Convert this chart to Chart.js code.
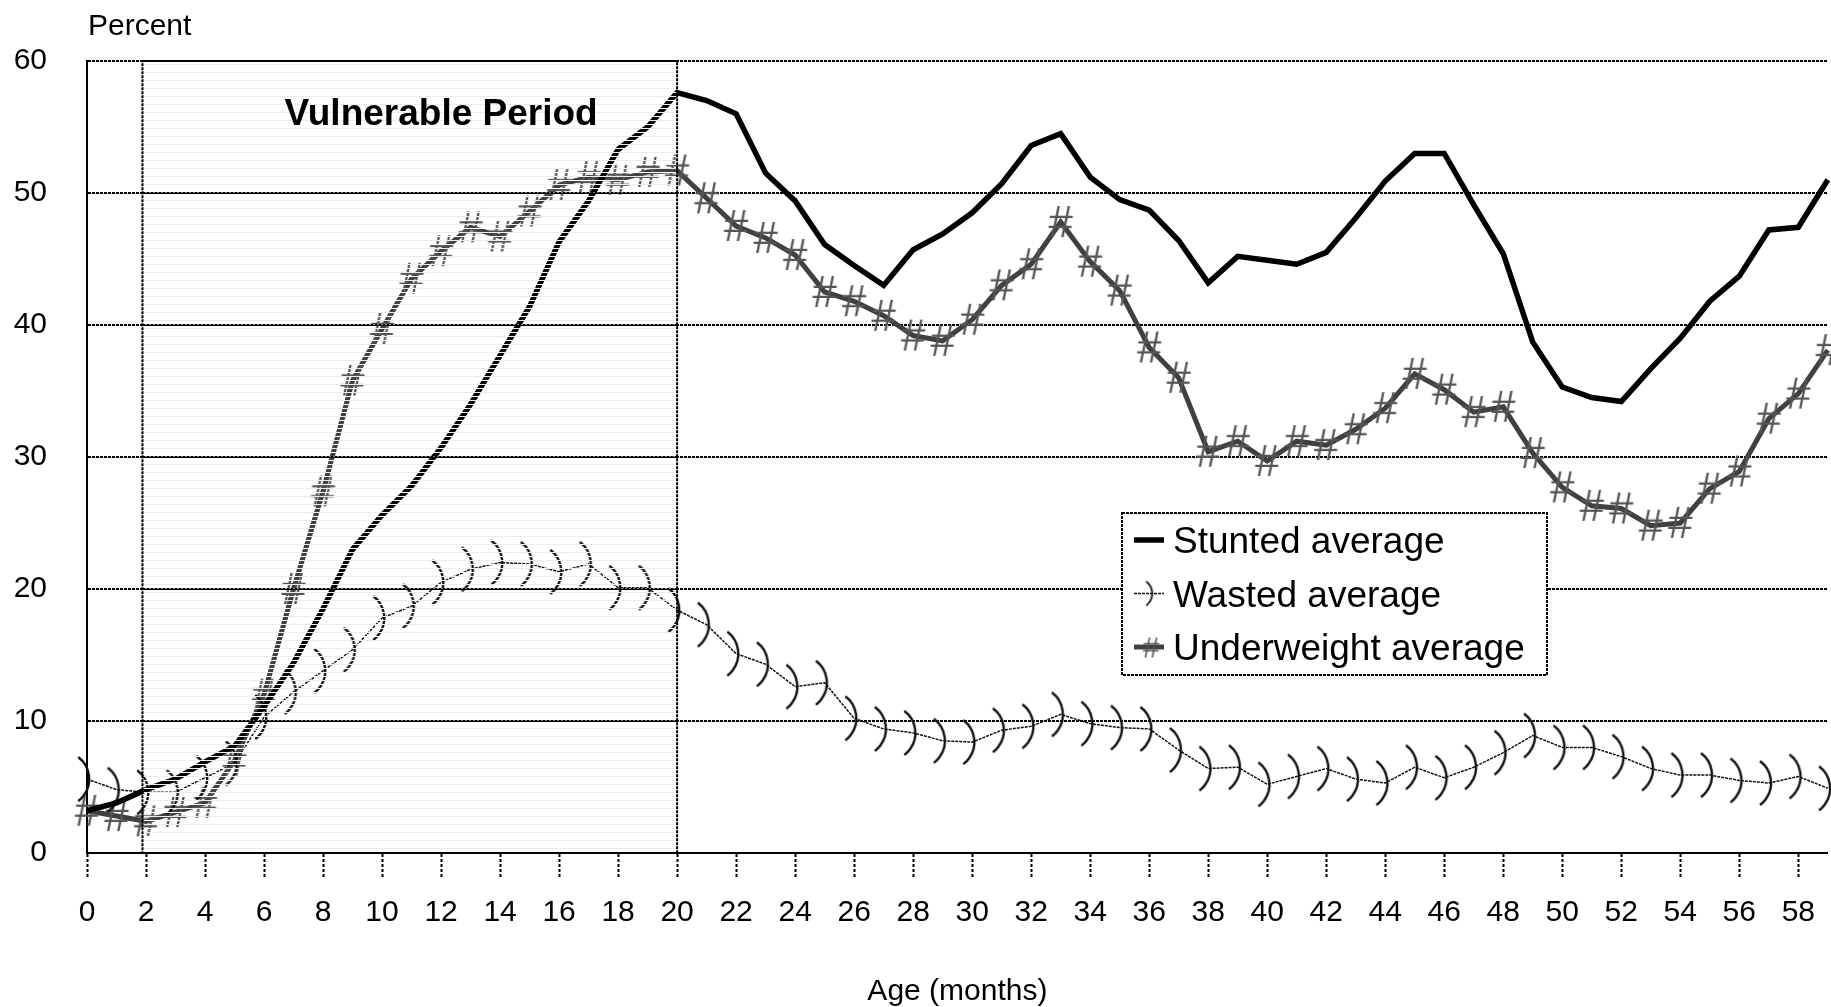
<!DOCTYPE html>
<html>
<head>
<meta charset="utf-8">
<title>Stunting, wasting and underweight by age</title>
<script src="https://cdn.jsdelivr.net/npm/chart.js@4.4.1/dist/chart.umd.min.js"></script>
<style>
  html, body { margin: 0; padding: 0; background: #fff; }
  #wrap { width: 1831px; height: 1007px; }
</style>
</head>
<body>
<div id="wrap"><canvas id="chart" width="1831" height="1007"></canvas></div>
<script>
// Age in months (x values)
const ages = [0, 1, 2, 3, 4, 5, 6, 7, 8, 9, 10, 11, 12, 13, 14, 15, 16, 17, 18, 19,
    20, 21, 22, 23, 24, 25, 26, 27, 28, 29, 30, 31, 32, 33, 34, 35, 36, 37, 38, 39,
    40, 41, 42, 43, 44, 45, 46, 47, 48, 49, 50, 51, 52, 53, 54, 55, 56, 57, 58, 59];

// Percent values
const stunted = [3.2, 3.8, 4.8, 5.6, 6.9, 8.1, 11.1, 14.4, 18.5, 23.0, 25.6, 27.8, 30.7, 34.0, 37.7, 41.4, 46.3, 49.4, 53.3, 55.0,
    57.6, 57.0, 56.0, 51.5, 49.4, 46.1, 44.5, 43.0, 45.7, 46.9, 48.5, 50.7, 53.6, 54.5, 51.2, 49.5, 48.7, 46.4, 43.2, 45.2,
    44.9, 44.6, 45.5, 48.1, 50.9, 53.0, 53.0, 49.1, 45.4, 38.7, 35.3, 34.5, 34.2, 36.7, 39.0, 41.8, 43.7, 47.2, 47.4, 51.0];

const wasted = [5.6, 4.8, 4.6, 4.6, 5.7, 6.8, 10.3, 12.2, 13.8, 15.4, 17.8, 18.7, 20.5, 21.5, 22.0, 21.9, 21.3, 21.9, 20.1, 20.1,
    18.4, 17.3, 15.1, 14.3, 12.6, 12.9, 10.2, 9.4, 9.1, 8.5, 8.4, 9.3, 9.6, 10.5, 9.8, 9.5, 9.4, 7.8, 6.4, 6.5,
    5.2, 5.8, 6.4, 5.6, 5.3, 6.5, 5.7, 6.5, 7.6, 8.9, 8.0, 8.0, 7.3, 6.4, 5.9, 5.9, 5.5, 5.3, 5.8, 4.9];

const underweight = [3.2, 2.8, 2.4, 3.1, 3.8, 7.0, 12.0, 20.0, 27.4, 35.8, 39.7, 43.5, 45.6, 47.4, 46.7, 48.6, 50.6, 51.2, 51.0, 51.6,
    51.7, 49.6, 47.5, 46.6, 45.3, 42.5, 41.8, 40.7, 39.2, 38.8, 40.4, 43.0, 44.6, 47.8, 44.8, 42.6, 38.3, 36.0, 30.4, 31.2,
    29.7, 31.2, 30.9, 32.1, 33.7, 36.3, 35.1, 33.4, 33.8, 30.3, 27.7, 26.3, 26.1, 24.8, 25.0, 27.6, 28.9, 32.9, 34.8, 38.1];

const seriesNames = ['Stunted average', 'Wasted average', 'Underweight average'];

// Tick labels
const xTicks = [0, 2, 4, 6, 8, 10, 12, 14, 16, 18, 20, 22, 24, 26, 28, 30, 32, 34, 36, 38, 40, 42, 44, 46, 48, 50, 52, 54, 56, 58];
const yTicks = [0, 10, 20, 30, 40, 50, 60];

// Shaded "vulnerable period" band (months) and its label
const periodStart = 1.88;
const periodEnd = 20;
const periodLabel = 'Vulnerable Period';

const FONT = '"Liberation Sans", Arial, sans-serif';
Chart.defaults.font.family = FONT;
Chart.defaults.color = '#000';

function toPoints(values) {
    return ages.map((a, i) => ({ x: a, y: values[i] }));
}

// ")" shaped marker used for the wasted series
function makeParen(h, lw) {
    const c = document.createElement('canvas');
    const w = Math.round(h * 0.55);
    c.width = w;
    c.height = h + 4;
    const g = c.getContext('2d');
    const half = h / 2, sag = h * 0.25;
    const r = (half * half + sag * sag) / (2 * sag);
    const bulgeX = w / 2 + h * 0.05;
    const a = Math.asin(half / r);
    g.strokeStyle = '#111';
    g.lineWidth = lw;
    g.beginPath();
    g.arc(bulgeX - r, c.height / 2, r, -a, a);
    g.stroke();
    return c;
}

// "#" marker used for the underweight series
function makeHash(size, color) {
    const c = document.createElement('canvas');
    c.width = Math.round(size * 0.7);
    c.height = Math.round(size * 0.9);
    const g = c.getContext('2d');
    g.font = size + 'px ' + FONT;
    g.fillStyle = color;
    g.textAlign = 'center';
    g.textBaseline = 'alphabetic';
    g.fillText('#', c.width / 2, c.height / 2 + size * 0.35);
    return c;
}

const parenMark = makeParen(44, 2.4);
const hashMark = makeHash(44, '#555');
const legendMarks = [null, makeParen(24, 1.8), makeHash(30, '#555')];

const periodPlugin = {
    id: 'periodBand',
    afterDatasetsDraw(chart) {
        const { ctx, scales: { x, y } } = chart;
        const left = x.getPixelForValue(periodStart);
        const right = x.getPixelForValue(periodEnd);
        const top = y.getPixelForValue(60);
        const bottom = y.getPixelForValue(0);
        ctx.save();
        // fine horizontal hatching over the band
        let i = 0;
        for (let yy = Math.round(top) + 3; yy < bottom - 2; yy += 4, i++) {
            ctx.fillStyle = i % 2 ? '#ffffff' : '#ececec';
            ctx.fillRect(left + 1, yy, right - left - 2, 1);
        }
        // redraw the grid lines that cross the band
        ctx.strokeStyle = '#000';
        ctx.lineWidth = 2;
        ctx.setLineDash([3, 1]);
        yTicks.forEach(v => {
            const py = y.getPixelForValue(v);
            ctx.beginPath();
            ctx.moveTo(left, py);
            ctx.lineTo(right, py);
            ctx.stroke();
        });
        ctx.strokeRect(left, top, right - left, bottom - top);
        ctx.setLineDash([]);
        ctx.font = 'bold 37px ' + FONT;
        ctx.textAlign = 'center';
        ctx.textBaseline = 'middle';
        ctx.fillStyle = '#000';
        ctx.fillText(periodLabel, x.getPixelForValue(12), y.getPixelForValue(55.9));
        ctx.restore();
    }
};

const legendPlugin = {
    id: 'boxLegend',
    afterDraw(chart) {
        const ctx = chart.ctx;
        const bx = 1122, by = 513, bw = 425, bh = 162;
        ctx.save();
        ctx.fillStyle = '#fff';
        ctx.fillRect(bx, by, bw, bh);
        ctx.strokeStyle = '#000';
        ctx.lineWidth = 2;
        ctx.setLineDash([3, 1]);
        ctx.strokeRect(bx, by, bw, bh);
        ctx.setLineDash([]);
        ctx.font = '37px ' + FONT;
        ctx.textAlign = 'left';
        ctx.textBaseline = 'alphabetic';
        chart.data.datasets.forEach((ds, i) => {
            const base = by + 40 + i * 53.5;
            const mid = base - 13;
            ctx.strokeStyle = ds.borderColor;
            ctx.lineWidth = ds.borderWidth;
            ctx.setLineDash(ds.borderDash || []);
            ctx.beginPath();
            ctx.moveTo(bx + 12, mid);
            ctx.lineTo(bx + 42, mid);
            ctx.stroke();
            ctx.setLineDash([]);
            const m = legendMarks[i];
            if (m) ctx.drawImage(m, bx + 29 - m.width / 2, mid - m.height / 2);
            ctx.fillStyle = '#000';
            ctx.fillText(ds.label, bx + 51, base);
        });
        // y axis caption
        ctx.font = '30px ' + FONT;
        ctx.textBaseline = 'middle';
        ctx.fillText('Percent', chart.chartArea.left + 1, 27);
        ctx.restore();
    }
};

new Chart(document.getElementById('chart'), {
    type: 'line',
    data: {
        datasets: [{
            label: seriesNames[0],
            data: toPoints(stunted),
            borderColor: '#000',
            borderWidth: 5.5,
            pointRadius: 0,
            clip: false
        }, {
            label: seriesNames[1],
            data: toPoints(wasted),
            borderColor: '#111',
            borderWidth: 1.5,
            borderDash: [3, 1],
            pointStyle: parenMark,
            pointRadius: 3,
            clip: false
        }, {
            label: seriesNames[2],
            data: toPoints(underweight),
            borderColor: '#404040',
            borderWidth: 5,
            pointStyle: hashMark,
            pointRadius: 3,
            clip: false
        }]
    },
    options: {
        responsive: false,
        animation: false,
        devicePixelRatio: 1,
        layout: { autoPadding: false, padding: { top: 61, left: 0, right: 0, bottom: 0 } },
        elements: { line: { tension: 0 } },
        plugins: {
            legend: { display: false },
            tooltip: { enabled: false }
        },
        scales: {
            x: {
                type: 'linear',
                min: 0,
                max: 59,
                afterBuildTicks: scale => { scale.ticks = xTicks.map(v => ({ value: v })); },
                afterFit: scale => { scale.height = 154; },
                ticks: {
                    autoSkip: false,
                    maxRotation: 0,
                    padding: 16,
                    font: { size: 30 },
                    color: '#000'
                },
                grid: {
                    drawOnChartArea: false,
                    drawTicks: true,
                    tickLength: 26,
                    tickWidth: 2,
                    tickColor: '#000',
                    tickBorderDash: [3, 2]
                },
                border: { display: true, color: '#000', width: 2 },
                title: {
                    display: true,
                    text: 'Age (months)',
                    font: { size: 30 },
                    color: '#000',
                    padding: { top: 0, bottom: -3 }
                }
            },
            y: {
                min: 0,
                max: 60,
                afterBuildTicks: scale => { scale.ticks = yTicks.map(v => ({ value: v })); },
                afterFit: scale => { scale.width = 87; },
                ticks: {
                    padding: 40,
                    font: { size: 30 },
                    color: '#000'
                },
                grid: {
                    color: '#000',
                    lineWidth: 2,
                    drawTicks: false
                },
                border: { display: true, color: '#000', width: 2, dash: [3, 1] }
            }
        }
    },
    plugins: [periodPlugin, legendPlugin]
});
</script>
</body>
</html>
